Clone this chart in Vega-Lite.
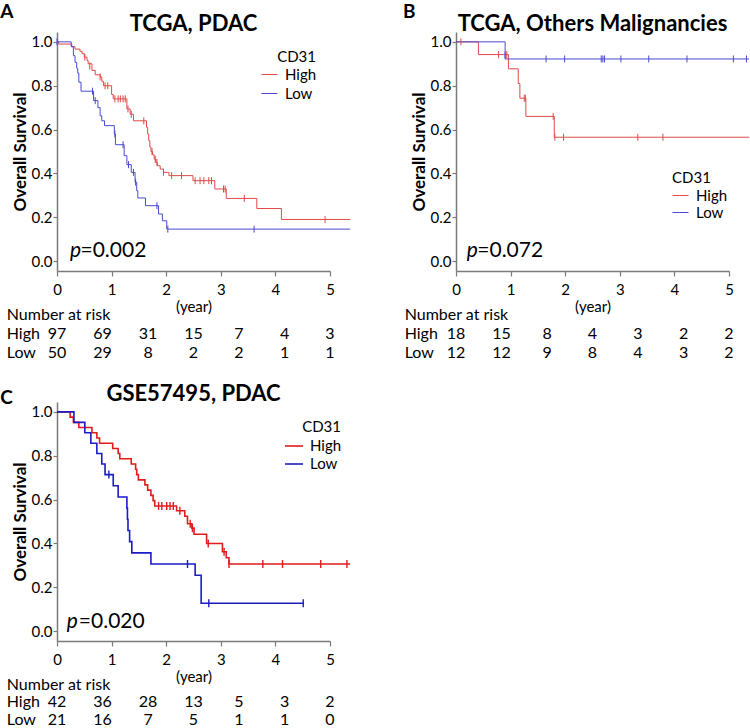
{
  "$schema": "https://vega.github.io/schema/vega-lite/v6.json",
  "background": "white",
  "padding": {"left": 0, "top": 2, "right": 0, "bottom": 0},
  "autosize": {"type": "pad"},
  "config": {
    "font": "Lato",
    "view": {"stroke": null},
    "axis": {"domainColor": "#7a7a7a", "tickColor": "#7a7a7a", "domainWidth": 1.5, "tickWidth": 1.2, "labelColor": "#000000", "titleColor": "#000000", "grid": false, "labelFont": "Lato", "titleFont": "Lato", "labelFlush": false, "labelOverlap": false},
    "legend": {"labelFont": "Lato", "titleFont": "Lato", "labelColor": "#000000", "titleColor": "#000000"},
    "text": {"font": "Lato", "color": "#000000"}
  },
  "datasets": {
    "curves": [
      {"panel":"A","grp":"High","t":0,"S":1.0},{"panel":"A","grp":"High","t":0.03,"S":0.99},{"panel":"A","grp":"High","t":0.27,"S":0.978},{"panel":"A","grp":"High","t":0.33,"S":0.967},{"panel":"A","grp":"High","t":0.42,"S":0.957},{"panel":"A","grp":"High","t":0.46,"S":0.946},{"panel":"A","grp":"High","t":0.50,"S":0.93},{"panel":"A","grp":"High","t":0.55,"S":0.915},{"panel":"A","grp":"High","t":0.57,"S":0.90},{"panel":"A","grp":"High","t":0.64,"S":0.87},{"panel":"A","grp":"High","t":0.70,"S":0.85},{"panel":"A","grp":"High","t":0.79,"S":0.84},{"panel":"A","grp":"High","t":0.82,"S":0.82},{"panel":"A","grp":"High","t":0.85,"S":0.80},{"panel":"A","grp":"High","t":1.00,"S":0.76},{"panel":"A","grp":"High","t":1.03,"S":0.74},{"panel":"A","grp":"High","t":1.28,"S":0.694},{"panel":"A","grp":"High","t":1.34,"S":0.67},{"panel":"A","grp":"High","t":1.40,"S":0.64},{"panel":"A","grp":"High","t":1.64,"S":0.61},{"panel":"A","grp":"High","t":1.66,"S":0.58},{"panel":"A","grp":"High","t":1.68,"S":0.55},{"panel":"A","grp":"High","t":1.70,"S":0.52},{"panel":"A","grp":"High","t":1.72,"S":0.50},{"panel":"A","grp":"High","t":1.75,"S":0.485},{"panel":"A","grp":"High","t":1.78,"S":0.465},{"panel":"A","grp":"High","t":1.81,"S":0.45},{"panel":"A","grp":"High","t":1.84,"S":0.435},{"panel":"A","grp":"High","t":1.89,"S":0.42},{"panel":"A","grp":"High","t":1.95,"S":0.405},{"panel":"A","grp":"High","t":2.05,"S":0.39},{"panel":"A","grp":"High","t":2.49,"S":0.367},{"panel":"A","grp":"High","t":2.89,"S":0.329},{"panel":"A","grp":"High","t":3.10,"S":0.286},{"panel":"A","grp":"High","t":3.66,"S":0.24},{"panel":"A","grp":"High","t":4.11,"S":0.19},{"panel":"A","grp":"High","t":5.37,"S":0.19},
      {"panel":"A","grp":"Low","t":0,"S":1.0},{"panel":"A","grp":"Low","t":0.26,"S":0.978},{"panel":"A","grp":"Low","t":0.30,"S":0.937},{"panel":"A","grp":"Low","t":0.33,"S":0.907},{"panel":"A","grp":"Low","t":0.36,"S":0.88},{"panel":"A","grp":"Low","t":0.38,"S":0.857},{"panel":"A","grp":"Low","t":0.40,"S":0.816},{"panel":"A","grp":"Low","t":0.44,"S":0.775},{"panel":"A","grp":"Low","t":0.67,"S":0.732},{"panel":"A","grp":"Low","t":0.75,"S":0.70},{"panel":"A","grp":"Low","t":0.79,"S":0.663},{"panel":"A","grp":"Low","t":0.82,"S":0.64},{"panel":"A","grp":"Low","t":0.87,"S":0.618},{"panel":"A","grp":"Low","t":1.05,"S":0.58},{"panel":"A","grp":"Low","t":1.07,"S":0.531},{"panel":"A","grp":"Low","t":1.23,"S":0.481},{"panel":"A","grp":"Low","t":1.28,"S":0.44},{"panel":"A","grp":"Low","t":1.36,"S":0.405},{"panel":"A","grp":"Low","t":1.43,"S":0.36},{"panel":"A","grp":"Low","t":1.46,"S":0.321},{"panel":"A","grp":"Low","t":1.48,"S":0.288},{"panel":"A","grp":"Low","t":1.62,"S":0.253},{"panel":"A","grp":"Low","t":1.86,"S":0.215},{"panel":"A","grp":"Low","t":1.93,"S":0.184},{"panel":"A","grp":"Low","t":2.01,"S":0.146},{"panel":"A","grp":"Low","t":5.37,"S":0.146},
      {"panel":"B","grp":"High","t":0,"S":1.0},{"panel":"B","grp":"High","t":0.41,"S":0.942},{"panel":"B","grp":"High","t":0.96,"S":0.877},{"panel":"B","grp":"High","t":1.14,"S":0.81},{"panel":"B","grp":"High","t":1.17,"S":0.743},{"panel":"B","grp":"High","t":1.28,"S":0.66},{"panel":"B","grp":"High","t":1.80,"S":0.565},{"panel":"B","grp":"High","t":5.37,"S":0.565},
      {"panel":"B","grp":"Low","t":0,"S":1.0},{"panel":"B","grp":"Low","t":0.90,"S":0.922},{"panel":"B","grp":"Low","t":5.37,"S":0.922},
      {"panel":"C","grp":"High","t":0,"S":1.0},{"panel":"C","grp":"High","t":0.24,"S":0.976},{"panel":"C","grp":"High","t":0.30,"S":0.952},{"panel":"C","grp":"High","t":0.40,"S":0.929},{"panel":"C","grp":"High","t":0.64,"S":0.905},{"panel":"C","grp":"High","t":0.73,"S":0.881},{"panel":"C","grp":"High","t":0.78,"S":0.857},{"panel":"C","grp":"High","t":1.02,"S":0.833},{"panel":"C","grp":"High","t":1.12,"S":0.81},{"panel":"C","grp":"High","t":1.15,"S":0.786},{"panel":"C","grp":"High","t":1.36,"S":0.762},{"panel":"C","grp":"High","t":1.44,"S":0.738},{"panel":"C","grp":"High","t":1.46,"S":0.714},{"panel":"C","grp":"High","t":1.49,"S":0.69},{"panel":"C","grp":"High","t":1.61,"S":0.667},{"panel":"C","grp":"High","t":1.66,"S":0.643},{"panel":"C","grp":"High","t":1.72,"S":0.619},{"panel":"C","grp":"High","t":1.76,"S":0.595},{"panel":"C","grp":"High","t":1.79,"S":0.571},{"panel":"C","grp":"High","t":2.19,"S":0.549},{"panel":"C","grp":"High","t":2.34,"S":0.524},{"panel":"C","grp":"High","t":2.39,"S":0.49},{"panel":"C","grp":"High","t":2.47,"S":0.47},{"panel":"C","grp":"High","t":2.51,"S":0.442},{"panel":"C","grp":"High","t":2.74,"S":0.40},{"panel":"C","grp":"High","t":3.03,"S":0.362},{"panel":"C","grp":"High","t":3.10,"S":0.335},{"panel":"C","grp":"High","t":3.15,"S":0.306},{"panel":"C","grp":"High","t":5.37,"S":0.306},
      {"panel":"C","grp":"Low","t":0,"S":1.0},{"panel":"C","grp":"Low","t":0.31,"S":0.952},{"panel":"C","grp":"Low","t":0.51,"S":0.905},{"panel":"C","grp":"Low","t":0.62,"S":0.857},{"panel":"C","grp":"Low","t":0.73,"S":0.81},{"panel":"C","grp":"Low","t":0.82,"S":0.762},{"panel":"C","grp":"Low","t":0.88,"S":0.714},{"panel":"C","grp":"Low","t":1.03,"S":0.663},{"panel":"C","grp":"Low","t":1.12,"S":0.612},{"panel":"C","grp":"Low","t":1.28,"S":0.561},{"panel":"C","grp":"Low","t":1.29,"S":0.51},{"panel":"C","grp":"Low","t":1.30,"S":0.459},{"panel":"C","grp":"Low","t":1.33,"S":0.408},{"panel":"C","grp":"Low","t":1.37,"S":0.357},{"panel":"C","grp":"Low","t":1.72,"S":0.306},{"panel":"C","grp":"Low","t":2.53,"S":0.255},{"panel":"C","grp":"Low","t":2.64,"S":0.127},{"panel":"C","grp":"Low","t":4.51,"S":0.127}
    ],
    "censors": [
      {"panel":"A","grp":"High","t":0.51,"S":0.93},{"panel":"A","grp":"High","t":0.60,"S":0.89},{"panel":"A","grp":"High","t":0.79,"S":0.84},{"panel":"A","grp":"High","t":0.88,"S":0.80},{"panel":"A","grp":"High","t":0.93,"S":0.80},{"panel":"A","grp":"High","t":1.06,"S":0.74},{"panel":"A","grp":"High","t":1.12,"S":0.74},{"panel":"A","grp":"High","t":1.16,"S":0.74},{"panel":"A","grp":"High","t":1.21,"S":0.74},{"panel":"A","grp":"High","t":1.25,"S":0.74},{"panel":"A","grp":"High","t":1.30,"S":0.694},{"panel":"A","grp":"High","t":1.36,"S":0.67},{"panel":"A","grp":"High","t":1.59,"S":0.64},{"panel":"A","grp":"High","t":1.74,"S":0.50},{"panel":"A","grp":"High","t":1.80,"S":0.465},{"panel":"A","grp":"High","t":1.83,"S":0.45},{"panel":"A","grp":"High","t":1.95,"S":0.405},{"panel":"A","grp":"High","t":2.10,"S":0.39},{"panel":"A","grp":"High","t":2.28,"S":0.39},{"panel":"A","grp":"High","t":2.53,"S":0.367},{"panel":"A","grp":"High","t":2.62,"S":0.367},{"panel":"A","grp":"High","t":2.69,"S":0.367},{"panel":"A","grp":"High","t":2.78,"S":0.367},{"panel":"A","grp":"High","t":2.83,"S":0.367},{"panel":"A","grp":"High","t":3.05,"S":0.329},{"panel":"A","grp":"High","t":3.08,"S":0.329},{"panel":"A","grp":"High","t":3.43,"S":0.286},{"panel":"A","grp":"High","t":4.91,"S":0.19},
      {"panel":"A","grp":"Low","t":0.0,"S":1.0},{"panel":"A","grp":"Low","t":0.65,"S":0.775},{"panel":"A","grp":"Low","t":0.70,"S":0.732},{"panel":"A","grp":"Low","t":1.06,"S":0.58},{"panel":"A","grp":"Low","t":1.21,"S":0.531},{"panel":"A","grp":"Low","t":1.31,"S":0.44},{"panel":"A","grp":"Low","t":1.40,"S":0.405},{"panel":"A","grp":"Low","t":1.44,"S":0.36},{"panel":"A","grp":"Low","t":1.83,"S":0.253},{"panel":"A","grp":"Low","t":2.03,"S":0.146},{"panel":"A","grp":"Low","t":3.61,"S":0.146},
      {"panel":"B","grp":"High","t":0.09,"S":1.0},{"panel":"B","grp":"High","t":0.78,"S":0.942},{"panel":"B","grp":"High","t":0.93,"S":0.942},{"panel":"B","grp":"High","t":1.25,"S":0.743},{"panel":"B","grp":"High","t":1.27,"S":0.743},{"panel":"B","grp":"High","t":1.78,"S":0.66},{"panel":"B","grp":"High","t":1.81,"S":0.565},{"panel":"B","grp":"High","t":1.97,"S":0.565},{"panel":"B","grp":"High","t":3.33,"S":0.565},{"panel":"B","grp":"High","t":3.79,"S":0.565},
      {"panel":"B","grp":"Low","t":0.90,"S":0.94},{"panel":"B","grp":"Low","t":1.65,"S":0.922},{"panel":"B","grp":"Low","t":1.99,"S":0.922},{"panel":"B","grp":"Low","t":2.66,"S":0.922},{"panel":"B","grp":"Low","t":2.69,"S":0.922},{"panel":"B","grp":"Low","t":2.72,"S":0.922},{"panel":"B","grp":"Low","t":3.02,"S":0.922},{"panel":"B","grp":"Low","t":3.53,"S":0.922},{"panel":"B","grp":"Low","t":4.23,"S":0.922},{"panel":"B","grp":"Low","t":5.08,"S":0.922},{"panel":"B","grp":"Low","t":5.32,"S":0.922},
      {"panel":"C","grp":"High","t":1.86,"S":0.571},{"panel":"C","grp":"High","t":1.92,"S":0.571},{"panel":"C","grp":"High","t":2.01,"S":0.571},{"panel":"C","grp":"High","t":2.07,"S":0.571},{"panel":"C","grp":"High","t":2.13,"S":0.571},{"panel":"C","grp":"High","t":2.25,"S":0.549},{"panel":"C","grp":"High","t":2.44,"S":0.49},{"panel":"C","grp":"High","t":2.48,"S":0.47},{"panel":"C","grp":"High","t":2.77,"S":0.40},{"panel":"C","grp":"High","t":3.06,"S":0.362},{"panel":"C","grp":"High","t":3.15,"S":0.306},{"panel":"C","grp":"High","t":3.77,"S":0.306},{"panel":"C","grp":"High","t":4.13,"S":0.306},{"panel":"C","grp":"High","t":4.83,"S":0.306},{"panel":"C","grp":"High","t":5.31,"S":0.306},
      {"panel":"C","grp":"Low","t":0.95,"S":0.714},{"panel":"C","grp":"Low","t":2.39,"S":0.306},{"panel":"C","grp":"Low","t":2.78,"S":0.127},{"panel":"C","grp":"Low","t":4.51,"S":0.127}
    ],
    "risk": [
      {"panel":"A","grp":"High","t":0,"n":97},{"panel":"A","grp":"High","t":0.833,"n":69},{"panel":"A","grp":"High","t":1.667,"n":31},{"panel":"A","grp":"High","t":2.5,"n":15},{"panel":"A","grp":"High","t":3.333,"n":7},{"panel":"A","grp":"High","t":4.167,"n":4},{"panel":"A","grp":"High","t":5,"n":3},
      {"panel":"A","grp":"Low","t":0,"n":50},{"panel":"A","grp":"Low","t":0.833,"n":29},{"panel":"A","grp":"Low","t":1.667,"n":8},{"panel":"A","grp":"Low","t":2.5,"n":2},{"panel":"A","grp":"Low","t":3.333,"n":2},{"panel":"A","grp":"Low","t":4.167,"n":1},{"panel":"A","grp":"Low","t":5,"n":1},
      {"panel":"B","grp":"High","t":0,"n":18},{"panel":"B","grp":"High","t":0.833,"n":15},{"panel":"B","grp":"High","t":1.667,"n":8},{"panel":"B","grp":"High","t":2.5,"n":4},{"panel":"B","grp":"High","t":3.333,"n":3},{"panel":"B","grp":"High","t":4.167,"n":2},{"panel":"B","grp":"High","t":5,"n":2},
      {"panel":"B","grp":"Low","t":0,"n":12},{"panel":"B","grp":"Low","t":0.833,"n":12},{"panel":"B","grp":"Low","t":1.667,"n":9},{"panel":"B","grp":"Low","t":2.5,"n":8},{"panel":"B","grp":"Low","t":3.333,"n":4},{"panel":"B","grp":"Low","t":4.167,"n":3},{"panel":"B","grp":"Low","t":5,"n":2},
      {"panel":"C","grp":"High","t":0,"n":42},{"panel":"C","grp":"High","t":0.833,"n":36},{"panel":"C","grp":"High","t":1.667,"n":28},{"panel":"C","grp":"High","t":2.5,"n":13},{"panel":"C","grp":"High","t":3.333,"n":5},{"panel":"C","grp":"High","t":4.167,"n":3},{"panel":"C","grp":"High","t":5,"n":2},
      {"panel":"C","grp":"Low","t":0,"n":21},{"panel":"C","grp":"Low","t":0.833,"n":16},{"panel":"C","grp":"Low","t":1.667,"n":7},{"panel":"C","grp":"Low","t":2.5,"n":5},{"panel":"C","grp":"Low","t":3.333,"n":1},{"panel":"C","grp":"Low","t":4.167,"n":1},{"panel":"C","grp":"Low","t":5,"n":0}
    ],
    "rowlabels": [{"grp":"Number at risk"},{"grp":"High"},{"grp":"Low"}]
  },
  "columns": 2,
  "align": "each",
  "bounds": "flush",
  "spacing": {"row": 20, "column": 126},
  "resolve": {"scale": {"color": "independent"}, "legend": {"color": "independent"}},
  "concat": [
    {
      "width": 273, "height": 239,
      "layer": [
        {"data": {"name": "curves"}, "transform": [{"filter": "datum.panel === 'A'"}],
         "mark": {"type": "line", "interpolate": "step-after", "strokeWidth": 1},
         "encoding": {
           "x": {"field": "t", "type": "quantitative", "scale": {"domain": [0, 5], "nice": false, "zero": false}, "axis": {"values": [0,1,2,3,4,5], "title": "(year)", "titleFontWeight": "normal", "titleFontSize": 15, "labelFontSize": 15, "tickSize": 5, "labelPadding": 6, "titlePadding": 2}},
           "y": {"field": "S", "type": "quantitative", "scale": {"domain": [-0.045, 1.045], "nice": false, "zero": false}, "axis": {"values": [0,0.2,0.4,0.6,0.8,1], "format": ".1f", "title": "Overall Survival", "titleFontSize": 17, "titleFontWeight": "bold", "labelFontSize": 15, "tickSize": 4, "labelPadding": 1, "titlePadding": 2}},
           "color": {"field": "grp", "type": "nominal", "scale": {"domain": ["High", "Low"], "range": ["#e04a4a", "#4a4ad2"]},
             "legend": {"title": "CD31", "orient": "none", "legendX": 204, "legendY": 18, "symbolType": "stroke", "symbolSize": 256, "symbolStrokeWidth": 1, "labelFontSize": 15, "titleFontSize": 15, "titleFontWeight": "normal", "titleAnchor": "end", "titlePadding": 1, "rowPadding": 2, "labelOffset": 7, "padding": 0}}
         }},
        {"data": {"name": "censors"}, "transform": [{"filter": "datum.panel === 'A'"}],
         "mark": {"type": "point", "shape": "M0,-1L0,1", "size": 49, "strokeWidth": 1, "filled": false, "opacity": 1},
         "encoding": {"x": {"field": "t", "type": "quantitative"}, "y": {"field": "S", "type": "quantitative"}, "color": {"field": "grp", "type": "nominal", "legend": null}}},
        {"data": {"values": [{}]}, "mark": {"type": "text", "fontSize": 22, "fontWeight": "bold", "align": "center", "baseline": "alphabetic"},
         "encoding": {"x": {"datum": 2.5}, "y": {"datum": 1.0496}, "text": {"value": "TCGA, PDAC"}}},
        {"data": {"values": [{}]}, "mark": {"type": "text", "fontSize": 19, "fontWeight": "bold", "align": "left", "baseline": "alphabetic"},
         "encoding": {"x": {"datum": -1.04}, "y": {"datum": 1.109}, "text": {"value": "A"}}},
        {"data": {"values": [{}]}, "mark": {"type": "text", "fontSize": 21, "fontStyle": "italic", "align": "left", "baseline": "alphabetic"},
         "encoding": {"x": {"datum": 0.238}, "y": {"datum": 0.018}, "text": {"value": "p"}}},
        {"data": {"values": [{}]}, "mark": {"type": "text", "fontSize": 21, "align": "left", "baseline": "alphabetic"},
         "encoding": {"x": {"datum": 0.43}, "y": {"datum": 0.018}, "text": {"value": "=0.002"}}}
      ]
    },
    {
      "width": 273, "height": 239,
      "layer": [
        {"data": {"name": "curves"}, "transform": [{"filter": "datum.panel === 'B'"}],
         "mark": {"type": "line", "interpolate": "step-after", "strokeWidth": 1},
         "encoding": {
           "x": {"field": "t", "type": "quantitative", "scale": {"domain": [0, 5], "nice": false, "zero": false}, "axis": {"values": [0,1,2,3,4,5], "title": "(year)", "titleFontWeight": "normal", "titleFontSize": 15, "labelFontSize": 15, "tickSize": 5, "labelPadding": 6, "titlePadding": 2}},
           "y": {"field": "S", "type": "quantitative", "scale": {"domain": [-0.045, 1.045], "nice": false, "zero": false}, "axis": {"values": [0,0.2,0.4,0.6,0.8,1], "format": ".1f", "title": "Overall Survival", "titleFontSize": 17, "titleFontWeight": "bold", "labelFontSize": 15, "tickSize": 4, "labelPadding": 1, "titlePadding": 2}},
           "color": {"field": "grp", "type": "nominal", "scale": {"domain": ["High", "Low"], "range": ["#e04a4a", "#4a4ad2"]},
             "legend": {"title": "CD31", "orient": "none", "legendX": 216, "legendY": 139, "symbolType": "stroke", "symbolSize": 256, "symbolStrokeWidth": 1, "labelFontSize": 15, "titleFontSize": 15, "titleFontWeight": "normal", "titleAnchor": "start", "titlePadding": 1, "rowPadding": 0, "labelOffset": 7, "padding": 0}}
         }},
        {"data": {"name": "censors"}, "transform": [{"filter": "datum.panel === 'B'"}],
         "mark": {"type": "point", "shape": "M0,-1L0,1", "size": 49, "strokeWidth": 1, "filled": false, "opacity": 1},
         "encoding": {"x": {"field": "t", "type": "quantitative"}, "y": {"field": "S", "type": "quantitative"}, "color": {"field": "grp", "type": "nominal", "legend": null}}},
        {"data": {"values": [{}]}, "mark": {"type": "text", "fontSize": 22, "fontWeight": "bold", "align": "center", "baseline": "alphabetic"},
         "encoding": {"x": {"datum": 2.5}, "y": {"datum": 1.0496}, "text": {"value": "TCGA, Others Malignancies"}}},
        {"data": {"values": [{}]}, "mark": {"type": "text", "fontSize": 19, "fontWeight": "bold", "align": "left", "baseline": "alphabetic"},
         "encoding": {"x": {"datum": -0.97}, "y": {"datum": 1.109}, "text": {"value": "B"}}},
        {"data": {"values": [{}]}, "mark": {"type": "text", "fontSize": 21, "fontStyle": "italic", "align": "left", "baseline": "alphabetic"},
         "encoding": {"x": {"datum": 0.196}, "y": {"datum": 0.018}, "text": {"value": "p"}}},
        {"data": {"values": [{}]}, "mark": {"type": "text", "fontSize": 21, "align": "left", "baseline": "alphabetic"},
         "encoding": {"x": {"datum": 0.39}, "y": {"datum": 0.018}, "text": {"value": "=0.072"}}}
      ]
    },
    {
      "width": 273, "height": 91,
      "layer": [
        {"data": {"name": "risk"}, "transform": [{"filter": "datum.panel === 'A'"}],
         "mark": {"type": "text", "fontSize": 16, "align": "center", "baseline": "middle"},
         "encoding": {
           "x": {"field": "t", "type": "quantitative", "scale": {"domain": [0, 5], "nice": false, "zero": false}, "axis": null},
           "y": {"field": "grp", "type": "ordinal", "scale": {"type": "point", "domain": ["Number at risk", "High", "Low"], "range": [24, 62], "padding": 0}, "axis": null},
           "text": {"field": "n", "type": "quantitative"}}},
        {"data": {"name": "rowlabels"},
         "mark": {"type": "text", "fontSize": 16, "align": "left", "baseline": "middle"},
         "encoding": {"x": {"datum": -0.92}, "y": {"field": "grp", "type": "ordinal"}, "text": {"field": "grp"}}}
      ]
    },
    {
      "width": 273, "height": 91,
      "layer": [
        {"data": {"name": "risk"}, "transform": [{"filter": "datum.panel === 'B'"}],
         "mark": {"type": "text", "fontSize": 16, "align": "center", "baseline": "middle"},
         "encoding": {
           "x": {"field": "t", "type": "quantitative", "scale": {"domain": [0, 5], "nice": false, "zero": false}, "axis": null},
           "y": {"field": "grp", "type": "ordinal", "scale": {"type": "point", "domain": ["Number at risk", "High", "Low"], "range": [24, 62], "padding": 0}, "axis": null},
           "text": {"field": "n", "type": "quantitative"}}},
        {"data": {"name": "rowlabels"},
         "mark": {"type": "text", "fontSize": 16, "align": "left", "baseline": "middle"},
         "encoding": {"x": {"datum": -0.94}, "y": {"field": "grp", "type": "ordinal"}, "text": {"field": "grp"}}}
      ]
    },
    {
      "width": 273, "height": 239,
      "layer": [
        {"data": {"name": "curves"}, "transform": [{"filter": "datum.panel === 'C'"}],
         "mark": {"type": "line", "interpolate": "step-after", "strokeWidth": 1.6},
         "encoding": {
           "x": {"field": "t", "type": "quantitative", "scale": {"domain": [0, 5], "nice": false, "zero": false}, "axis": {"values": [0,1,2,3,4,5], "title": "(year)", "titleFontWeight": "normal", "titleFontSize": 15, "labelFontSize": 15, "tickSize": 5, "labelPadding": 6, "titlePadding": 2}},
           "y": {"field": "S", "type": "quantitative", "scale": {"domain": [-0.045, 1.045], "nice": false, "zero": false}, "axis": {"values": [0,0.2,0.4,0.6,0.8,1], "format": ".1f", "title": "Overall Survival", "titleFontSize": 17, "titleFontWeight": "bold", "labelFontSize": 15, "tickSize": 4, "labelPadding": 1, "titlePadding": 2}},
           "color": {"field": "grp", "type": "nominal", "scale": {"domain": ["High", "Low"], "range": ["#e01c1c", "#1c1cc4"]},
             "legend": {"title": "CD31", "orient": "none", "legendX": 227, "legendY": 18, "symbolType": "stroke", "symbolSize": 324, "symbolStrokeWidth": 1.6, "labelFontSize": 15, "titleFontSize": 15, "titleFontWeight": "normal", "titleAnchor": "end", "titlePadding": 1, "rowPadding": 0, "labelOffset": 6, "padding": 0}}
         }},
        {"data": {"name": "censors"}, "transform": [{"filter": "datum.panel === 'C'"}],
         "mark": {"type": "point", "shape": "M0,-1L0,1", "size": 64, "strokeWidth": 1.4, "filled": false, "opacity": 1},
         "encoding": {"x": {"field": "t", "type": "quantitative"}, "y": {"field": "S", "type": "quantitative"}, "color": {"field": "grp", "type": "nominal", "legend": null}}},
        {"data": {"values": [{}]}, "mark": {"type": "text", "fontSize": 22, "fontWeight": "bold", "align": "center", "baseline": "alphabetic"},
         "encoding": {"x": {"datum": 2.5}, "y": {"datum": 1.051}, "text": {"value": "GSE57495, PDAC"}}},
        {"data": {"values": [{}]}, "mark": {"type": "text", "fontSize": 19, "fontWeight": "bold", "align": "left", "baseline": "alphabetic"},
         "encoding": {"x": {"datum": -1.04}, "y": {"datum": 1.036}, "text": {"value": "C"}}},
        {"data": {"values": [{}]}, "mark": {"type": "text", "fontSize": 21, "fontStyle": "italic", "align": "left", "baseline": "alphabetic"},
         "encoding": {"x": {"datum": 0.178}, "y": {"datum": 0.013}, "text": {"value": "p"}}},
        {"data": {"values": [{}]}, "mark": {"type": "text", "fontSize": 21, "align": "left", "baseline": "alphabetic"},
         "encoding": {"x": {"datum": 0.4}, "y": {"datum": 0.013}, "text": {"value": "=0.020"}}}
      ]
    },
    {
      "width": 273, "height": 10,
      "data": {"values": []},
      "mark": {"type": "point", "opacity": 0}
    },
    {
      "width": 273, "height": 91,
      "layer": [
        {"data": {"name": "risk"}, "transform": [{"filter": "datum.panel === 'C'"}],
         "mark": {"type": "text", "fontSize": 16, "align": "center", "baseline": "middle"},
         "encoding": {
           "x": {"field": "t", "type": "quantitative", "scale": {"domain": [0, 5], "nice": false, "zero": false}, "axis": null},
           "y": {"field": "grp", "type": "ordinal", "scale": {"type": "point", "domain": ["Number at risk", "High", "Low"], "range": [24, 58.5], "padding": 0}, "axis": null},
           "text": {"field": "n", "type": "quantitative"}}},
        {"data": {"name": "rowlabels"},
         "mark": {"type": "text", "fontSize": 16, "align": "left", "baseline": "middle"},
         "encoding": {"x": {"datum": -0.92}, "y": {"field": "grp", "type": "ordinal"}, "text": {"field": "grp"}}}
      ]
    }
  ]
}
